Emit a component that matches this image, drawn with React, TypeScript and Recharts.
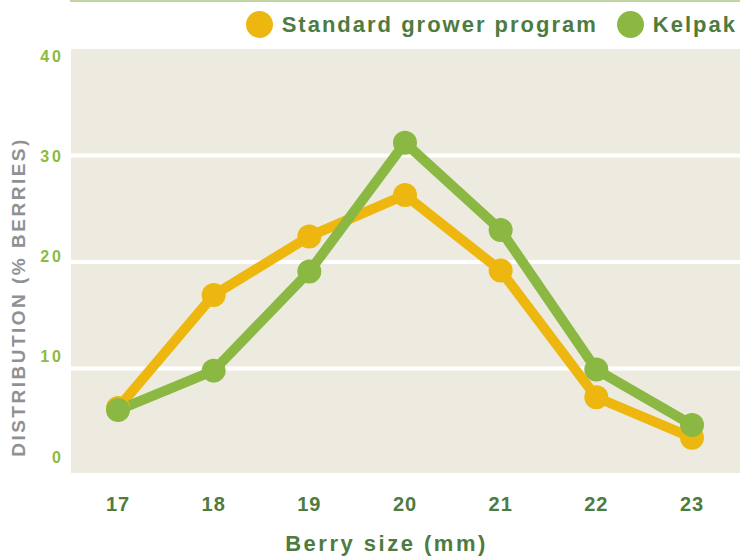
import React from 'react';
import { LineChart, Line, XAxis, YAxis, CartesianGrid, Label } from 'recharts';

// values
const berrySizes = ['17', '18', '19', '20', '21', '22', '23'];
const standardProgram = [6.3, 16.9, 22.4, 26.3, 19.2, 7.3, 3.5];
const kelpak = [6.1, 9.8, 19.1, 31.2, 23.0, 9.9, 4.7];
const yTicks = [0, 10, 20, 30, 40];
const gridValues = [0, 10, 20, 30];

const series = [
  { key: 'standard', name: 'Standard grower program', color: '#EEB710' },
  { key: 'kelpak', name: 'Kelpak', color: '#8BB842' },
];

const data = berrySizes.map((size, i) => ({
  size,
  standard: standardProgram[i],
  kelpak: kelpak[i],
}));

const FONT = '"Liberation Sans", Arial, Helvetica, sans-serif';
const DARK_GREEN = '#4E7B40';

// y tick labels sit slightly off the grid lines in the original
const YTick = (props: any) => {
  const { x, y, payload } = props;
  const dy = 7 - (40 - payload.value) * 0.62;
  return (
    <text
      x={x}
      y={y + dy}
      textAnchor="end"
      dominantBaseline="central"
      fill="#8DBA3F"
      fontFamily={FONT}
      fontWeight={700}
      fontSize={16}
      letterSpacing={3}
    >
      {payload.value}
    </text>
  );
};

function ChartLegend() {
  return (
    <div
      style={{
        position: 'absolute',
        top: 11,
        right: 3,
        display: 'flex',
        alignItems: 'center',
        fontFamily: FONT,
        fontWeight: 700,
        fontSize: 22,
        letterSpacing: 2,
        color: DARK_GREEN,
        lineHeight: '27px',
      }}
    >
      {series.map((s, i) => (
        <div key={s.key} style={{ display: 'flex', alignItems: 'center', marginLeft: i === 0 ? 0 : 19 }}>
          <span
            style={{
              width: 27,
              height: 27,
              borderRadius: '50%',
              background: s.color,
              display: 'inline-block',
              marginRight: 9,
            }}
          />
          <span>{s.name}</span>
        </div>
      ))}
    </div>
  );
}

export default function App() {
  return (
    <div style={{ position: 'absolute', left: 0, top: 0, width: 740, height: 558, background: '#fff' }}>
      <div style={{ position: 'absolute', left: 70, top: 0, width: 670, height: 2, background: '#C3D4A4' }} />
      <ChartLegend />
      <LineChart width={740} height={558} data={data} margin={{ top: 49, right: 0, bottom: 0, left: 0 }}>
        <CartesianGrid
          fill="#EDEBE0"
          vertical={false}
          horizontalValues={gridValues}
          stroke="#FFFFFF"
          strokeWidth={4}
        />
        <XAxis
          dataKey="size"
          height={83}
          padding={{ left: 47, right: 48 }}
          axisLine={false}
          tickLine={false}
          tickSize={0}
          tickMargin={22}
          tick={{ fill: DARK_GREEN, fontFamily: FONT, fontWeight: 700, fontSize: 20, letterSpacing: 1 }}
        >
          <Label
            content={({ viewBox }: any) => (
              <text
                x={viewBox.x + viewBox.width / 2 - 19}
                y={551}
                textAnchor="middle"
                fill={DARK_GREEN}
                fontFamily={FONT}
                fontWeight={700}
                fontSize={22}
                letterSpacing={2.5}
              >
                Berry size (mm)
              </text>
            )}
          />
        </XAxis>
        <YAxis
          width={71}
          domain={[0, 40]}
          ticks={yTicks}
          axisLine={false}
          tickLine={false}
          tickSize={0}
          tickMargin={7}
          tick={<YTick />}
        >
          <Label
            content={({ viewBox }: any) => (
              <text
                transform={`translate(${viewBox.x + 18}, ${viewBox.y + viewBox.height / 2 + 35}) rotate(-90)`}
                textAnchor="middle"
                dominantBaseline="central"
                fill="#8F9194"
                fontFamily={FONT}
                fontWeight={700}
                fontSize={19}
                letterSpacing={2.5}
              >
                DISTRIBUTION (% BERRIES)
              </text>
            )}
          />
        </YAxis>
        {series.map((s) => (
          <Line
            key={s.key}
            type="linear"
            dataKey={s.key}
            name={s.name}
            stroke={s.color}
            strokeWidth={10}
            strokeLinejoin="round"
            dot={{ r: 12, fill: s.color, stroke: 'none', strokeWidth: 0 }}
            activeDot={false}
            isAnimationActive={false}
          />
        ))}
      </LineChart>
    </div>
  );
}
